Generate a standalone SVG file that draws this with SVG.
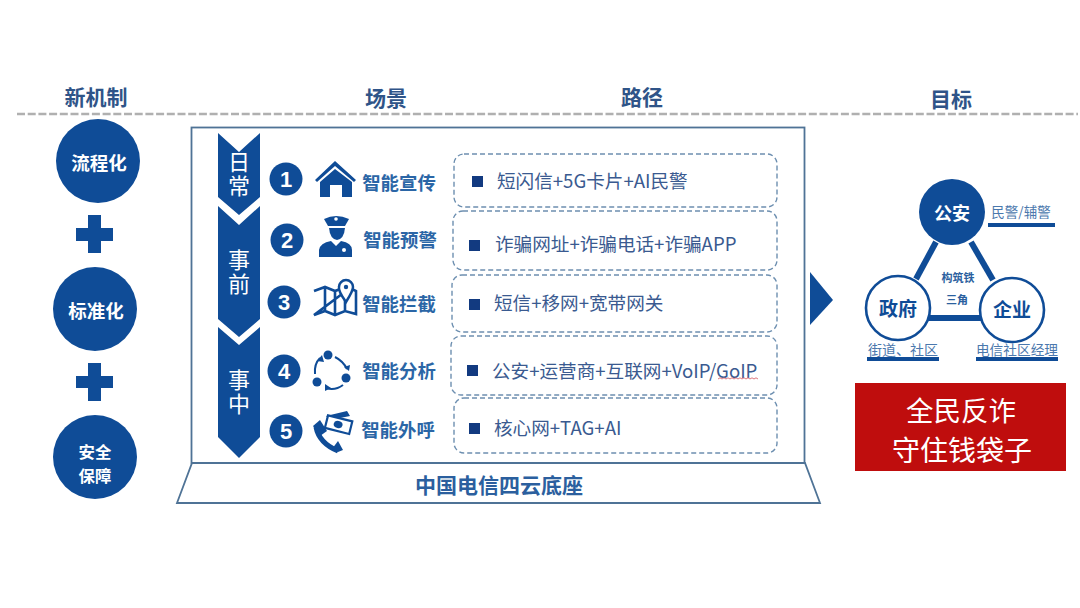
<svg xmlns="http://www.w3.org/2000/svg" width="1080" height="608" viewBox="0 0 1080 608">
<style>
text{font-family:"Noto Sans CJK SC","Liberation Sans",sans-serif;text-anchor:middle}
.h{font-size:21px;font-weight:700;fill:#2f5488}
.blue{fill:#0f4c97}
.w{fill:#fff;font-weight:700;font-size:18.5px}
.nm{font-size:18.4px;font-weight:700;fill:#2b66a6}
.p{font-size:18.6px;fill:#3a5a90;text-anchor:start}
.box{fill:#fff;stroke:#6d8fb0;stroke-width:1.4;stroke-dasharray:5 3}
.sq{fill:#123a80}
.frame{fill:#fff;stroke:#4f7396;stroke-width:1.8}
.num{font-size:22px;fill:#fff;font-weight:700;font-family:"Liberation Sans",sans-serif}
.cap{font-size:14px;fill:#4b78ad}
.ul{stroke:#0f4c97;stroke-width:4}
.ln{stroke:#0f4c97;fill:none}
.ph{font-size:22px;fill:#fff;writing-mode:vertical-rl;letter-spacing:2px}
</style>
<rect width="1080" height="608" fill="#fff"/>
<line x1="17" y1="114" x2="1078" y2="114" stroke="#b0b0b0" stroke-width="2.4" stroke-dasharray="8 2.7"/>
<text class="h" x="96" y="105">新机制</text><text class="h" x="386" y="106">场景</text><text class="h" x="642" y="105">路径</text><text class="h" x="951" y="107">目标</text>

<g id="left-mechanisms">
<g id="m1"><circle class="blue" cx="98" cy="161" r="42"/><text class="w" x="99" y="170">流程化</text></g>
<path class="blue" d="M88 215h13v13h12v13h-12v12h-13v-12h-12v-13h12z"/>
<g id="m2"><circle class="blue" cx="95" cy="309" r="42"/><text class="w" x="96" y="318">标准化</text></g>
<path class="blue" d="M88 363h13v13h12v12h-12v13h-13v-13h-12v-12h12z"/>
<g id="m3"><circle class="blue" cx="95" cy="457" r="42"/><text class="w" x="95" y="457.500" style="font-size:16.400px">安全</text><text class="w" x="95" y="481.500" style="font-size:16.400px">保障</text></g>
</g>

<g id="frame">
<rect class="frame" x="191.500" y="127.500" width="613" height="335.500"/>
<path class="frame" d="M192 463H805L820 503H177Z"/>
<text x="499" y="493" font-size="21" font-weight="700" fill="#2b5f9e">中国电信四云底座</text>
</g>

<g id="phase">
<path class="blue" d="M218 133L239 152L260 133V197L239 215L218 197Z"/>
<path class="blue" d="M218 206L239 225L260 206V319L239 337L218 319Z"/>
<path class="blue" d="M218 327L239 345L260 327V437L239 458L218 437Z"/>
<text class="ph" x="239" y="175">日常</text>
<text class="ph" x="239" y="273">事前</text>
<text class="ph" x="239" y="393">事中</text>
</g>

<g id="s1"><circle class="blue" cx="286" cy="179" r="16.500"/><text class="num" x="286" y="187">1</text>
<path class="blue" d="M315 180L335 161L356 180L354 182L335 166L317 182Z"/><path class="blue" d="M320 182L335 169L352 182V197H342V185H330V197H320Z"/>
<text class="nm" x="399" y="190">智能宣传</text></g>
<g id="s2"><circle class="blue" cx="287" cy="240" r="16.500"/><text class="num" x="287" y="248">2</text>
<path class="blue" d="M324 219Q336 213 349 219L345 226H328Z"/><path class="blue" d="M329 228H345Q344 239 337 240Q330 239 329 228Z"/><path class="blue" d="M319 257V250Q320 243 331 241L336 246L341 241Q352 243 352 250V257Z"/>
<circle cx="336" cy="219" r="1.800" fill="#fff"/><circle cx="344" cy="250" r="2" fill="#fff"/>
<text class="nm" x="400" y="247">智能预警</text></g>
<g id="s3"><circle class="blue" cx="284" cy="302" r="16.500"/><text class="num" x="284" y="310">3</text>
<path class="ln" stroke-width="2.6" d="M314 291L325 287L335 291L343 288M350 288L356 291V314L345 311L335 315L325 311L314 315ZM325 287V311M335 291V315M345 298V311"/>
<path d="M346 302Q338 291 339 287A7 7 0 1 1 353 287Q353 291 346 302Z" fill="#fff" stroke="#0f4c97" stroke-width="2.500"/><circle class="blue" cx="346" cy="287" r="2.200"/>
<text class="nm" x="399" y="311">智能拦截</text></g>
<g id="s4"><circle class="blue" cx="284" cy="371" r="16.500"/><text class="num" x="284" y="379">4</text>
<circle class="blue" cx="328" cy="355" r="4.500"/><circle class="blue" cx="346" cy="378" r="4.500"/><circle class="blue" cx="317" cy="382" r="4.500"/>
<path class="ln" stroke-width="2" d="M335 357Q343 361 347 369M343 385Q335 391 326 388M315 374Q314 364 320 358"/>
<path class="blue" d="M349 371L344 367L350 365ZM325 391L325 384L331 388ZM322 355L324 362L317 361Z"/>
<text class="nm" x="399" y="378">智能分析</text></g>
<g id="s5"><circle class="blue" cx="286" cy="431" r="16.500"/><text class="num" x="286" y="439">5</text>
<path class="ln" stroke-width="5" d="M316 427Q319 443 338 451"/>
<path class="blue" d="M313 426L320 420L327 431L320 436Z"/><path class="blue" d="M332 449L338 441L343 450L338 452Z"/>
<path class="blue" d="M326 416L347 411L350 416L330 420Z"/>
<g transform="rotate(14 338 425)"><rect x="326" y="418" width="25" height="13" fill="#fff" stroke="#0f4c97" stroke-width="2.200"/><ellipse class="blue" cx="338" cy="424.500" rx="4.500" ry="3.500"/></g>
<text class="nm" x="398" y="437">智能外呼</text></g>

<g id="paths">
<g id="p1"><rect class="box" x="454" y="154" width="323" height="53" rx="10"/><rect class="sq" x="472" y="176" width="11" height="11"/><text class="p" x="497" y="188">短闪信+5G卡片+AI民警</text></g>
<g id="p2"><rect class="box" x="453" y="211" width="324" height="59" rx="10"/><rect class="sq" x="469" y="240" width="11" height="11"/><text class="p" x="495" y="251">诈骗网址+诈骗电话+诈骗APP</text></g>
<g id="p3"><rect class="box" x="452" y="275" width="325" height="57" rx="10"/><rect class="sq" x="469" y="299" width="11" height="11"/><text class="p" x="494" y="310">短信+移网+宽带网关</text></g>
<g id="p4"><rect class="box" x="451" y="336" width="326" height="59" rx="10"/><rect class="sq" x="467" y="365" width="11" height="11"/><text class="p" x="492" y="378">公安+运营商+互联网+VoIP/GoIP</text>
<path d="M718 379l2-1.200 2 1.200 2-1.200 2 1.200 2-1.200 2 1.200 2-1.200 2 1.200 2-1.200 2 1.200 2-1.200 2 1.200 2-1.200 2 1.200 2-1.200 2 1.200 2-1.200 2 1.200 2-1.200 2 1.200" fill="none" stroke="#d9686f" stroke-width="0.900"/></g>
<g id="p5"><rect class="box" x="454" y="398" width="323" height="55" rx="10"/><rect class="sq" x="469" y="423" width="11" height="11"/><text class="p" x="494" y="435">核心网+TAG+AI</text></g>
</g>

<path class="blue" d="M810 272L833 300L810 325Z"/>

<g id="triangle">
<g id="links" class="ln" stroke-width="6"><line x1="936" y1="242" x2="916" y2="279"/><line x1="971" y1="242" x2="993" y2="280"/><line x1="925" y1="318" x2="986" y2="318"/></g>
<g id="police"><circle class="blue" cx="952" cy="212" r="33"/><text class="w" x="952" y="220" style="font-size:18px">公安</text></g>
<g id="gov"><circle cx="898" cy="308" r="32" fill="#fff" stroke="#0f4c97" stroke-width="2.600"/><text x="898" y="316" font-size="19" font-weight="700" fill="#0f4c97">政府</text></g>
<g id="ent"><circle cx="1012" cy="310" r="32" fill="#fff" stroke="#0f4c97" stroke-width="2.600"/><text x="1012" y="317" font-size="19" font-weight="700" fill="#0f4c97">企业</text></g>
<text x="958" y="282" font-size="11" font-weight="700" fill="#2b5f9e">构筑铁</text><text x="957" y="304" font-size="11" font-weight="700" fill="#2b5f9e">三角</text>
<text class="cap" x="1021" y="217" style="font-size:13.500px">民警/辅警</text><line class="ul" x1="988" y1="225" x2="1055" y2="225"/>
<text class="cap" x="903" y="355">街道、社区</text><line class="ul" x1="867" y1="359" x2="939" y2="359"/>
<text class="cap" x="1017" y="355" style="font-size:13.700px">电信社区经理</text><line class="ul" x1="976" y1="359" x2="1058" y2="359"/>
</g>
<g id="goal"><rect x="855" y="383" width="211" height="88" fill="#bf0d0d"/><text x="961" y="421" font-size="27.500" fill="#fff">全民反诈</text><text x="962" y="461" font-size="28" fill="#fff">守住钱袋子</text></g>
</svg>
